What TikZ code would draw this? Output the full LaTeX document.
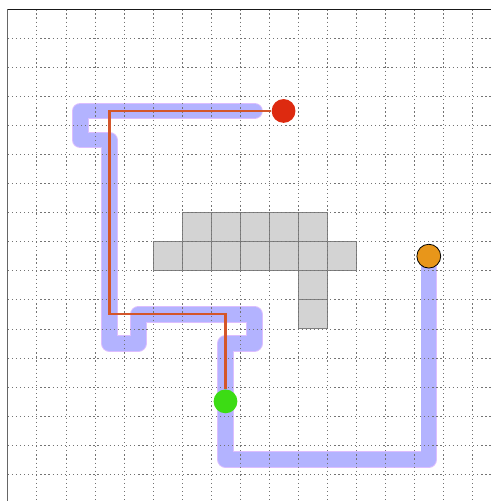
\documentclass[tikz,border=0pt]{standalone}
\usepackage{tikz}
\usetikzlibrary{calc}
\definecolor{pathblue}{HTML}{B3B3FF}
\definecolor{pathedge}{HTML}{DCBEFF}
\definecolor{routered}{HTML}{D4562A}
\definecolor{startred}{HTML}{DD2A10}
\definecolor{goalgreen}{HTML}{3CDC14}
\definecolor{otherorange}{HTML}{E8961A}
\definecolor{cellgray}{HTML}{D3D3D3}

\begin{document}
\begin{tikzpicture}[x=1cm,y=-1cm,
    gridline/.style={black!55,line width=0.5pt,dash pattern=on 1.2pt off 2.8pt},
    wall/.style={fill=cellgray,draw=black!50,line width=0.6pt},
    dot/.style={circle,inner sep=0pt,minimum size=0.82cm}]
    \useasboundingbox (-0.264,-0.32) rectangle (16.644,16.93);
    % blocked cells
    \foreach \c/\r in {6/7,7/7,8/7,9/7,10/7,5/8,6/8,7/8,8/8,9/8,10/8,11/8,10/9,10/10} {
      \draw[wall] (\c,\r) rectangle ++(1,1);
    }
    % the wide path
    \draw[pathedge,line width=0.57cm,line join=round,line cap=round]
      (8.5,3.5) -- (2.5,3.5) -- (2.5,4.5) -- (3.5,4.5) -- (3.5,11.5) -- (4.5,11.5)
      -- (4.5,10.5) -- (8.5,10.5) -- (8.5,11.5) -- (7.5,11.5) -- (7.5,15.5)
      -- (14.5,15.5) -- (14.5,8.5);
    \draw[pathblue,line width=0.51cm,line join=round,line cap=round]
      (8.5,3.5) -- (2.5,3.5) -- (2.5,4.5) -- (3.5,4.5) -- (3.5,11.5) -- (4.5,11.5)
      -- (4.5,10.5) -- (8.5,10.5) -- (8.5,11.5) -- (7.5,11.5) -- (7.5,15.5)
      -- (14.5,15.5) -- (14.5,8.5);
    \foreach \i in {1,...,16} {
      \draw[gridline] (\i,0) -- (\i,16.93);
      \draw[gridline] (0,\i) -- (16.644,\i);
    }
    \draw[black!60,line width=1.3pt] (0,0) -- (0,16.93);
    \draw[black!90,line width=1.2pt] (0,0) -- (16.644,0);
    \node[dot,fill=startred] (start) at (9.5,3.5) {};
    \node[dot,fill=goalgreen] (goal) at (7.5,13.5) {};
    \node[dot,fill=otherorange,draw=black,line width=0.8pt] (other) at (14.5,8.5) {};
    \draw[routered,line width=2.4pt]
      (start.west) -- (3.5,3.5) -- (3.5,10.5) -- (7.5,10.5) -- (goal.north);
  \end{tikzpicture}
\end{document}
